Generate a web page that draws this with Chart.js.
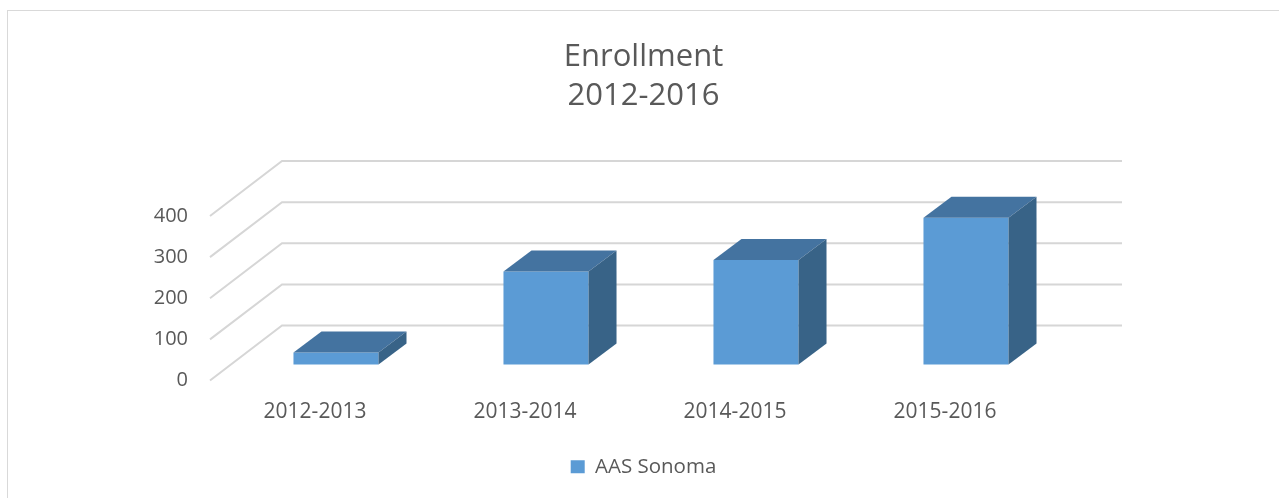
<!DOCTYPE html>
<html>
<head>
<meta charset="utf-8">
<script src="https://cdn.jsdelivr.net/npm/chart.js@4/dist/chart.umd.min.js"></script>
<style>
  html,body{margin:0;padding:0;background:#fff}
  #wrap{width:1279px;height:498px;position:relative}
</style>
</head>
<body>
<div id="wrap"><canvas id="c"></canvas></div>
<script>
// ── datos ──
const cats = ['2012-2013','2013-2014','2014-2015','2015-2016'];
const enrollment = [29, 226, 254, 357];
const yTicks = [0, 100, 200, 300, 400];
const serie = 'AAS Sonoma';

// ── 3D fake: desplazamientos ──
const DEPTH = {x:72, y:-55};      // frente -> pared del fondo
const BAR_OFF = {x:21, y:-16};    // plano frontal de las barras
const BAR_D = {x:28, y:-21};      // profundidad de cada barra
const GRID_C = '#d6d6d6', TOP_C = '#4473a0', SIDE_C = '#386387';

const fake3d = {
  id:'fake3d',
  beforeDraw(ch){
    const c=ch.ctx; c.save();
    c.strokeStyle='#d9d9d9'; c.lineWidth=1;
    c.strokeRect(7.5,10.5,ch.width+20,ch.height+20);
    c.restore();
  },
  beforeDatasetsDraw(ch){
    const c=ch.ctx, a=ch.chartArea, ys=ch.scales.y;
    c.save(); c.strokeStyle=GRID_C; c.lineWidth=2;
    yTicks.forEach(v=>{
      const py=ys.getPixelForValue(v);
      c.beginPath();
      c.moveTo(a.left,py);
      c.lineTo(a.left+DEPTH.x,py+DEPTH.y);
      c.lineTo(a.right+DEPTH.x,py+DEPTH.y);
      c.stroke();
    });
    c.restore();
    c.save(); c.translate(BAR_OFF.x,BAR_OFF.y);
  },
  afterDatasetsDraw(ch){
    const c=ch.ctx;
    ch.getDatasetMeta(0).data.forEach(b=>{
      const l=b.x-b.width/2, r=b.x+b.width/2, t=b.y, bt=b.base;
      // cara superior
      c.beginPath(); c.moveTo(l,t); c.lineTo(r,t); c.lineTo(r+BAR_D.x,t+BAR_D.y); c.lineTo(l+BAR_D.x,t+BAR_D.y); c.closePath();
      c.fillStyle=TOP_C; c.fill();
      // cara lateral
      c.beginPath(); c.moveTo(r,t); c.lineTo(r+BAR_D.x,t+BAR_D.y); c.lineTo(r+BAR_D.x,bt+BAR_D.y); c.lineTo(r,bt); c.closePath();
      c.fillStyle=SIDE_C; c.fill();
    });
    c.restore();
  }
};

const FONT = "'Open Sans', sans-serif", TXT = '#595959';
new Chart(document.getElementById('c'),{
  type:'bar',
  data:{labels:cats,datasets:[{label:serie,data:enrollment,backgroundColor:'#5b9bd5',borderWidth:0,
    categoryPercentage:1,barPercentage:0.405,clip:false}]},
  options:{
    responsive:true,maintainAspectRatio:false,animation:false,
    layout:{padding:{left:8,top:0,right:0,bottom:11}},
    plugins:{
      title:{display:true,text:['Enrollment','2012-2016'],color:TXT,
        font:{family:FONT,size:31,weight:'normal',lineHeight:'39px'},padding:{top:38,bottom:100}},
      legend:{position:'bottom',labels:{boxWidth:14,boxHeight:13,color:TXT,font:{family:FONT,size:20.5},padding:10}},
      tooltip:{enabled:false}
    },
    scales:{
      x:{grid:{display:false},border:{display:false},
        ticks:{color:TXT,font:{family:FONT,size:21},padding:11,maxRotation:0},
        afterFit(s){s.height=66;}},
      y:{min:0,max:400,grid:{display:false},border:{display:false},
        ticks:{stepSize:100,color:TXT,font:{family:FONT,size:20},padding:14},
        afterFit(s){s.width=202;}},
      y2:{position:'right',display:true,grid:{display:false},border:{display:false},
        ticks:{display:false},afterFit(s){s.width=229;}}
    }
  },
  plugins:[fake3d]
});
</script>
</body>
</html>
